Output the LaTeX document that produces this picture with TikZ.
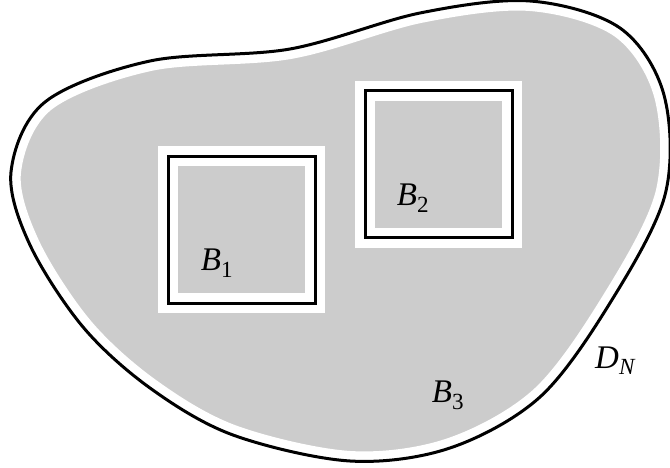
\documentclass[tikz,border=0pt]{standalone}
\usepackage{fontspec}
\setmainfont{Liberation Serif}
\usetikzlibrary{positioning}
\definecolor{regiongray}{RGB}{204,204,204}
\tikzset{
  subregion/.style={
    rectangle, draw=black, line width=3pt, inner sep=0pt,
    minimum width=147pt, minimum height=147pt,
    preaction={draw=white, line width=20pt}
  },
  lbl/.style={anchor=base west, inner sep=0pt,
    font=\fontsize{33}{38}\selectfont}
}

\begin{document}
\begin{tikzpicture}[x=1pt, y=-1pt]
  \useasboundingbox (0,0) rectangle (670,468);

  % outer domain, black boundary D_N with a white rim inside
  \draw[line width=3pt,
        preaction={fill=regiongray, draw=white, line width=20pt}]
    plot[smooth cycle, tension=0.55] coordinates {
      (11,172) (45,102) (150,61) (290,49) (420,13) (530,1)
      (620,28) (664,95) (665,195) (610,303) (540,397) (450,448)
      (350,461) (233,435) (150,388) (83,327) (30,245)};

  % the two inclusions
  \node[subregion] (b1) at (241.7,229.8) {};
  \node[subregion] (b2) at (438.7,164.3) {};

  \node[lbl] (lb1) at (200.7,270.7) {\textit{B}\textsubscript{1}};
  \node[lbl] (lb2) at (396.7,205.7) {\textit{B}\textsubscript{2}};
  \node[lbl] (lb3) at (431.7,402.3) {\textit{B}\textsubscript{3}};
  \node[lbl] (ldn) at (595,368.3) {\textit{D}\textsubscript{\textit{N}}};
\end{tikzpicture}
\end{document}
